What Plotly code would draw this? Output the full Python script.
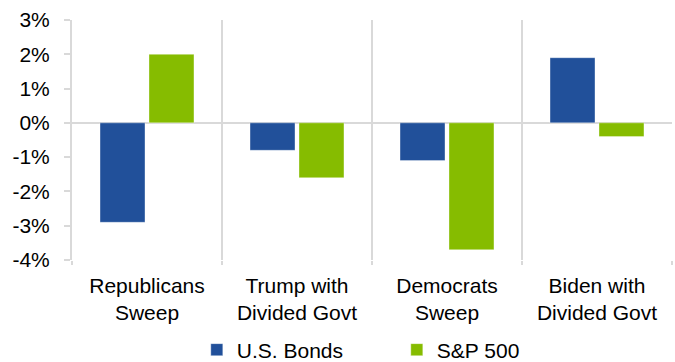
import plotly.graph_objects as go

# Average return by election outcome
categories = ["Republicans<br>Sweep", "Trump with<br>Divided Govt",
              "Democrats<br>Sweep", "Biden with<br>Divided Govt"]
bonds = [-2.9, -0.8, -1.1, 1.9]
sp500 = [2.0, -1.6, -3.7, -0.4]

y_ticks = [-4, -3, -2, -1, 0, 1, 2, 3]
y_tick_labels = ["-4%", "-3%", "-2%", "-1%", "0%", "1%", "2%", "3%"]

FONT = "Liberation Sans, Arial, sans-serif"
GRID = "#d9d9d9"
BLUE = "#21509a"
GREEN = "#86bc00"

fig = go.Figure()
fig.add_trace(go.Bar(
    x=categories, y=bonds, name="U.S. Bonds",
    marker=dict(color=BLUE, line=dict(color="rgba(255,255,255,0.35)", width=1)),
))
fig.add_trace(go.Bar(
    x=categories, y=sp500, name="S&P 500",
    marker=dict(color=GREEN, line=dict(color="rgba(255,255,255,0.35)", width=1)),
))

fig.update_layout(
    width=675, height=362,
    margin=dict(l=72, r=3, t=20, b=102, autoexpand=False),
    paper_bgcolor="white", plot_bgcolor="white",
    font=dict(family=FONT, size=21, color="#000000"),
    barmode="group", bargap=0.347, bargroupgap=0.082,
    showlegend=True,
    legend=dict(
        orientation="h", xref="paper", yref="paper",
        x=0.208, xanchor="left", y=-0.375, yanchor="middle",
        font=dict(size=21), entrywidth=155, entrywidthmode="pixels",
        itemwidth=30, bgcolor="rgba(0,0,0,0)",
    ),
)

fig.update_xaxes(
    type="category", tickson="boundaries",
    showgrid=True, gridcolor=GRID, gridwidth=2,
    ticks="outside", ticklen=4, tickwidth=2, tickcolor=GRID,
    showline=False, zeroline=False,
    ticklabelstandoff=11, tickfont=dict(size=21),
)
fig.update_yaxes(
    range=[-4, 3], tickvals=y_ticks, ticktext=y_tick_labels,
    showgrid=False, zeroline=True, zerolinecolor=GRID, zerolinewidth=2,
    showline=True, linecolor=GRID, linewidth=2,
    ticks="outside", ticklen=6, tickwidth=2, tickcolor=GRID,
    ticklabelstandoff=10, tickfont=dict(size=21),
)

fig.write_html("out.html")
